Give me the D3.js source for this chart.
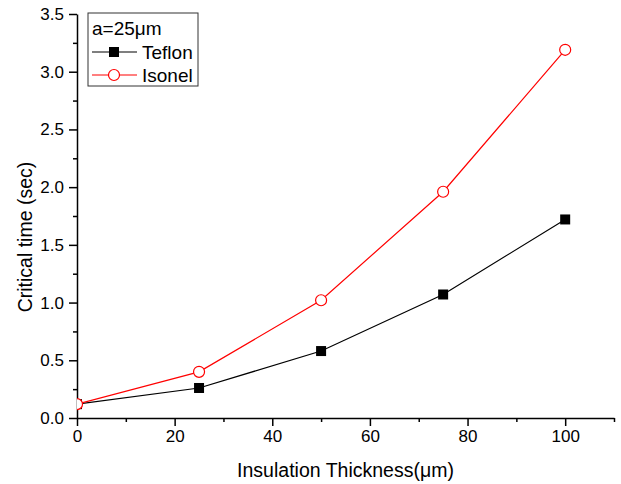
<!DOCTYPE html>
<html>
<head>
<meta charset="utf-8">
<script src="https://cdn.jsdelivr.net/npm/d3@7"></script>
<style>
  body { margin: 0; background: #fff; }
  text { font-family: Arial, "Liberation Sans", sans-serif; fill: #000; }
</style>
</head>
<body>
<div id="chart"></div>
<script>
// data
var thickness = [0, 25, 50, 75, 100];
var teflon = [0.12, 0.26, 0.58, 1.07, 1.72];
var isonel = [0.12, 0.40, 1.02, 1.96, 3.19];
var xTicks = [0, 20, 40, 60, 80, 100];
var yTicks = [0, 0.5, 1.0, 1.5, 2.0, 2.5, 3.0, 3.5];

var margin = {top: 14, right: 7, bottom: 66, left: 77},
    width = 621 - margin.left - margin.right,
    height = 484 - margin.top - margin.bottom;

var x = d3.scaleLinear().domain([0, 110]).range([0, width]);
var y = d3.scaleLinear().domain([0, 3.5]).range([height, 0]);

var svg = d3.select("#chart").append("svg")
    .attr("width", 621)
    .attr("height", 484)
  .append("g")
    .attr("transform", "translate(" + margin.left + "," + margin.top + ")");

svg.append("clipPath").attr("id", "clip")
  .append("rect").attr("width", width).attr("height", height);

// minor ticks
svg.append("g")
    .attr("transform", "translate(0," + height + ")")
    .call(d3.axisBottom(x).tickValues(d3.range(10, 111, 20)).tickSize(4).tickFormat(""))
    .call(function(g) { g.select(".domain").remove(); });
svg.append("g")
    .call(d3.axisLeft(y).tickValues(d3.range(0.25, 3.5, 0.5)).tickSize(4).tickFormat(""))
    .call(function(g) { g.select(".domain").remove(); });

// ADD AXES
var xAxis = svg.append("g")
    .attr("transform", "translate(0," + height + ")")
    .call(d3.axisBottom(x).tickValues(xTicks).tickSize(8).tickSizeOuter(0).tickPadding(4).tickFormat(d3.format("d")));
var yAxis = svg.append("g")
    .call(d3.axisLeft(y).tickValues(yTicks).tickSize(8).tickSizeOuter(0).tickPadding(5).tickFormat(d3.format(".1f")));

svg.selectAll(".tick line, .domain").attr("stroke", "#000").attr("stroke-width", 1.5);
svg.selectAll(".tick text").style("font-size", "17px").attr("fill", "#000");

// axis labels
svg.append("text")
    .attr("x", width / 2)
    .attr("y", height + 59)
    .style("text-anchor", "middle")
    .style("font-size", "19.5px")
    .text("Insulation Thickness(μm)");

svg.append("text")
    .attr("transform", "translate(" + (-45) + "," + 223 + ") rotate(-90)")
    .style("text-anchor", "middle")
    .style("font-size", "19.5px")
    .text("Critical time (sec)");

// ADD LINES
var series = [
  {name: "Teflon", values: teflon, color: "#000", shape: "square"},
  {name: "Isonel", values: isonel, color: "#ff0000", shape: "circle"}
];

var line = d3.line()
    .x(function(d) { return x(d[0]); })
    .y(function(d) { return y(d[1]); });

var plot = svg.append("g").attr("clip-path", "url(#clip)");

series.forEach(function(s) {
  var pts = thickness.map(function(t, i) { return [t, s.values[i]]; });
  plot.append("path")
      .attr("d", line(pts))
      .attr("fill", "none")
      .attr("stroke", s.color)
      .attr("stroke-width", 1.2);
  drawMarkers(plot, s, pts);
});

function drawMarkers(g, s, pts) {
  pts.forEach(function(p) {
    drawMarker(g, s.shape, x(p[0]), y(p[1]), s.color);
  });
}

function drawMarker(g, shape, cx, cy, color) {
  if (shape == "square") {
    g.append("rect")
        .attr("x", cx - 5).attr("y", cy - 5)
        .attr("width", 10).attr("height", 10)
        .attr("fill", "#000");
  } else {
    g.append("circle")
        .attr("cx", cx).attr("cy", cy).attr("r", 5.5)
        .attr("fill", "#fff")
        .attr("stroke", color)
        .attr("stroke-width", 1.2);
  }
}

// LEGEND
var legend = svg.append("g").attr("transform", "translate(" + (88 - margin.left) + "," + (13 - margin.top) + ")");
legend.append("rect")
    .attr("width", 110).attr("height", 73)
    .attr("fill", "#fff")
    .attr("stroke", "#333")
    .attr("stroke-width", 1);
legend.append("text")
    .attr("x", 4).attr("y", 22)
    .style("font-size", "19px")
    .text("a=25μm");
series.forEach(function(s, i) {
  var ly = 39 + i * 23;
  legend.append("line")
      .attr("x1", 4).attr("x2", 49)
      .attr("y1", ly).attr("y2", ly)
      .attr("stroke", s.color)
      .attr("stroke-width", 1.2);
  drawMarker(legend, s.shape, 26, ly, s.color);
  legend.append("text")
      .attr("x", 54).attr("y", ly + 7)
      .style("font-size", "19px")
      .text(s.name);
});
</script>
</body>
</html>
